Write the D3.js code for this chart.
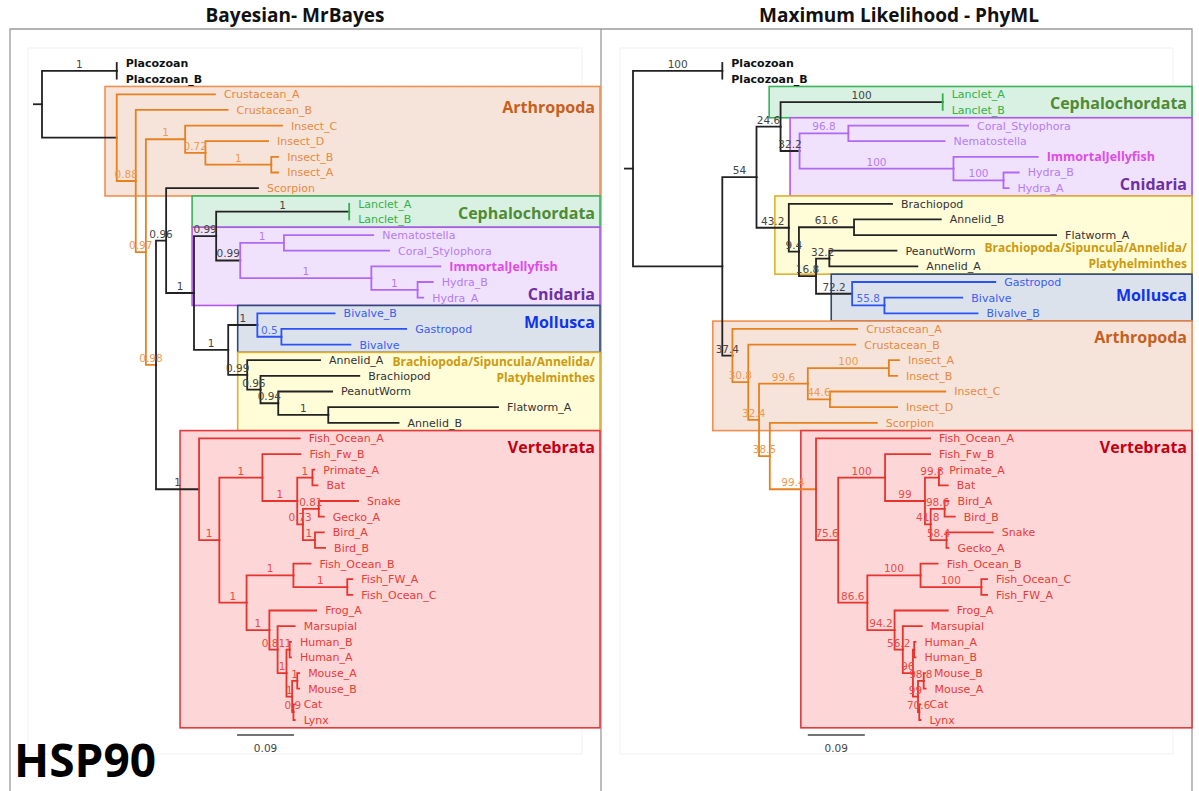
<!DOCTYPE html>
<html>
<head>
<meta charset="utf-8">
<script src="https://cdn.jsdelivr.net/npm/d3@7/dist/d3.min.js"></script>
<style>
  body { margin: 0; background: #fff; }
  text { font-family: "DejaVu Sans", sans-serif; }
</style>
</head>
<body>
<div id="chart"></div>
<script>
// rows: [node, parent, branch length, support]
const leftEdges = [
  ["root", null, 0, ""],
  ["Placo", "root", 0.118, "1"],
  ["Placozoan", "Placo", 0, ""],
  ["Placozoan_B", "Placo", 0, ""],
  ["N1", "root", 0.118, ""],
  ["Crustacean_A", "N1", 0.155, ""],
  ["N2", "N1", 0.030, "0.88"],
  ["Crustacean_B", "N2", 0.145, ""],
  ["N3", "N2", 0.016, "0.97"],
  ["Insects", "N3", 0.062, "1"],
  ["Insect_C", "Insects", 0.153, ""],
  ["ID", "Insects", 0.032, "0.72"],
  ["Insect_D", "ID", 0.099, ""],
  ["IAB", "ID", 0.104, "1"],
  ["Insect_B", "IAB", 0.011, ""],
  ["Insect_A", "IAB", 0.011, ""],
  ["N4", "N3", 0.016, "0.98"],
  ["N5", "N4", 0.016, "0.96"],
  ["Scorpion", "N5", 0.145, ""],
  ["N6", "N5", 0.044, "1"],
  ["N7", "N6", 0.035, "0.99"],
  ["Lanc", "N7", 0.210, "1"],
  ["Lanclet_A", "Lanc", 0, ""],
  ["Lanclet_B", "Lanc", 0, ""],
  ["Cnid", "N7", 0.038, "0.99"],
  ["Anth", "Cnid", 0.069, "1"],
  ["Nematostella", "Anth", 0.141, ""],
  ["Coral_Stylophora", "Anth", 0.166, ""],
  ["Hydz", "Cnid", 0.207, "1"],
  ["ImmortalJellyfish", "Hydz", 0.109, ""],
  ["Hydra", "Hydz", 0.073, "1"],
  ["Hydra_B", "Hydra", 0.024, ""],
  ["Hydra_A", "Hydra", 0.009, ""],
  ["N8", "N6", 0.054, "1"],
  ["Moll", "N8", 0.046, "1"],
  ["Bivalve_B", "Moll", 0.122, ""],
  ["MG", "Moll", 0.038, "0.5"],
  ["Gastropod", "MG", 0.197, ""],
  ["Bivalve", "MG", 0.109, ""],
  ["Loph", "N8", 0.030, "0.99"],
  ["Annelid_A", "Loph", 0.115, ""],
  ["M", "Loph", 0.021, "0.96"],
  ["Brachiopod", "M", 0.156, ""],
  ["P", "M", 0.028, "0.94"],
  ["PeanutWorm", "P", 0.085, ""],
  ["FA", "P", 0.079, "1"],
  ["Flatworm_A", "FA", 0.268, ""],
  ["Annelid_B", "FA", 0.111, ""],
  ["Vert", "N4", 0.068, "1"],
  ["Fish_Ocean_A", "Vert", 0.159, ""],
  ["V2", "Vert", 0.032, "1"],
  ["V3", "V2", 0.068, "1"],
  ["Fish_Fw_B", "V3", 0.060, ""],
  ["Amn", "V3", 0.055, "1"],
  ["PB", "Amn", 0.024, "1"],
  ["Primate_A", "PB", 0.003, ""],
  ["Bat", "PB", 0.008, ""],
  ["S", "Amn", 0.009, "0.73"],
  ["Sq", "S", 0.025, "0.81"],
  ["Snake", "Sq", 0.062, ""],
  ["Gecko_A", "Sq", 0.008, ""],
  ["Birds", "S", 0.019, "1"],
  ["Bird_A", "Birds", 0.014, ""],
  ["Bird_B", "Birds", 0.016, ""],
  ["V4", "V2", 0.043, "1"],
  ["FO", "V4", 0.074, "1"],
  ["Fish_Ocean_B", "FO", 0.027, ""],
  ["FF", "FO", 0.085, "1"],
  ["Fish_FW_A", "FF", 0.008, ""],
  ["Fish_Ocean_C", "FF", 0.008, ""],
  ["Tet", "V4", 0.036, "1"],
  ["Frog_A", "Tet", 0.074, ""],
  ["Mm", "Tet", 0.013, "0.81"],
  ["Marsupial", "Mm", 0.027, ""],
  ["Eu", "Mm", 0.014, "1"],
  ["Hum", "Eu", 0.005, "1"],
  ["Human_B", "Hum", 0.002, ""],
  ["Human_A", "Hum", 0.002, ""],
  ["Gl", "Eu", 0.009, "1"],
  ["Mou", "Gl", 0.008, "1"],
  ["Mouse_A", "Mou", 0.003, ""],
  ["Mouse_B", "Mou", 0.003, ""],
  ["CL", "Gl", 0.002, "0.9"],
  ["Cat", "CL", 0.002, ""],
  ["Lynx", "CL", 0.002, ""]
];

const rightEdges = [
  ["root", null, 0, ""],
  ["Placo", "root", 0.141, "100"],
  ["Placozoan", "Placo", 0, ""],
  ["Placozoan_B", "Placo", 0, ""],
  ["R1", "root", 0.141, ""],
  ["R2", "R1", 0.054, "54"],
  ["R3", "R2", 0.038, "24.6"],
  ["Lanc", "R3", 0.256, "100"],
  ["Lanclet_A", "Lanc", 0, ""],
  ["Lanclet_B", "Lanc", 0, ""],
  ["Cnid", "R3", 0.030, "32.2"],
  ["Anth", "Cnid", 0.077, "96.8"],
  ["Coral_Stylophora", "Anth", 0.189, ""],
  ["Nematostella", "Anth", 0.152, ""],
  ["Hydz", "Cnid", 0.243, "100"],
  ["ImmortalJellyfish", "Hydz", 0.133, ""],
  ["Hydra", "Hydz", 0.079, "100"],
  ["Hydra_B", "Hydra", 0.024, ""],
  ["Hydra_A", "Hydra", 0.008, ""],
  ["R4", "R2", 0.051, "43.2"],
  ["Brachiopod", "R4", 0.163, ""],
  ["R5", "R4", 0.016, "9.4"],
  ["R6", "R5", 0.087, "61.6"],
  ["Annelid_B", "R6", 0.137, ""],
  ["Flatworm_A", "R6", 0.319, ""],
  ["R7", "R5", 0.027, "16.8"],
  ["R8", "R7", 0.021, "32.2"],
  ["PeanutWorm", "R8", 0.106, ""],
  ["Annelid_A", "R8", 0.139, ""],
  ["Moll", "R7", 0.057, "72.2"],
  ["Gastropod", "Moll", 0.226, ""],
  ["BB", "Moll", 0.051, "55.8"],
  ["Bivalve", "BB", 0.123, ""],
  ["Bivalve_B", "BB", 0.147, ""],
  ["R9", "R1", 0.016, "37.4"],
  ["Crustacean_A", "R9", 0.197, ""],
  ["R10", "R9", 0.025, "30.8"],
  ["Crustacean_B", "R10", 0.169, ""],
  ["R11", "R10", 0.017, "32.4"],
  ["Insects", "R11", 0.077, "99.6"],
  ["IAB", "Insects", 0.128, "100"],
  ["Insect_A", "IAB", 0.016, ""],
  ["Insect_B", "IAB", 0.013, ""],
  ["ICD", "Insects", 0.035, "44.6"],
  ["Insect_C", "ICD", 0.182, ""],
  ["Insect_D", "ICD", 0.106, ""],
  ["R12", "R11", 0.017, "38.5"],
  ["Scorpion", "R12", 0.169, ""],
  ["Vert", "R12", 0.073, "99.4"],
  ["Fish_Ocean_A", "Vert", 0.180, ""],
  ["V2", "Vert", 0.035, "75.6"],
  ["V3", "V2", 0.074, "100"],
  ["Fish_Fw_B", "V3", 0.071, ""],
  ["Amn", "V3", 0.063, "99"],
  ["PB", "Amn", 0.022, "99.8"],
  ["Primate_A", "PB", 0.002, ""],
  ["Bat", "PB", 0.014, ""],
  ["S", "Amn", 0.009, "41.8"],
  ["Birds", "S", 0.022, "98.6"],
  ["Bird_A", "Birds", 0.006, ""],
  ["Bird_B", "Birds", 0.016, ""],
  ["Sq", "S", 0.025, "58.4"],
  ["Snake", "Sq", 0.073, ""],
  ["Gecko_A", "Sq", 0.003, ""],
  ["V4", "V2", 0.046, "86.6"],
  ["FO", "V4", 0.084, "100"],
  ["Fish_Ocean_B", "FO", 0.027, ""],
  ["FF", "FO", 0.096, "100"],
  ["Fish_Ocean_C", "FF", 0.009, ""],
  ["Fish_FW_A", "FF", 0.009, ""],
  ["Tet", "V4", 0.043, "94.2"],
  ["Frog_A", "Tet", 0.084, ""],
  ["Mm", "Tet", 0.013, "56.2"],
  ["Marsupial", "Mm", 0.030, ""],
  ["Eu", "Mm", 0.016, "96"],
  ["Hum", "Eu", 0.002, ""],
  ["Human_A", "Hum", 0.002, ""],
  ["Human_B", "Hum", 0.002, ""],
  ["Gl", "Eu", 0.008, "99"],
  ["Mou", "Gl", 0.009, "98.8"],
  ["Mouse_B", "Mou", 0.002, ""],
  ["Mouse_A", "Mou", 0.003, ""],
  ["CL", "Gl", 0.002, "70.6"],
  ["Cat", "CL", 0.002, ""],
  ["Lynx", "CL", 0.002, ""]
];

// which taxon belongs to which group (label colour + boxes)
const placozoa = ["Placozoan", "Placozoan_B"];
const arthropoda = ["Crustacean_A", "Crustacean_B", "Insect_A", "Insect_B", "Insect_C", "Insect_D", "Scorpion"];
const cephalochordata = ["Lanclet_A", "Lanclet_B"];
const cnidaria = ["Nematostella", "Coral_Stylophora", "ImmortalJellyfish", "Hydra_A", "Hydra_B"];
const mollusca = ["Bivalve", "Bivalve_B", "Gastropod"];
const lophotrochozoa = ["Annelid_A", "Annelid_B", "Brachiopod", "PeanutWorm", "Flatworm_A"];
const vertebrata = ["Fish_Ocean_A", "Fish_Fw_B", "Primate_A", "Bat", "Snake", "Gecko_A", "Bird_A", "Bird_B",
  "Fish_Ocean_B", "Fish_FW_A", "Fish_Ocean_C", "Frog_A", "Marsupial", "Human_A", "Human_B",
  "Mouse_A", "Mouse_B", "Cat", "Lynx"];

const panelTitles = ["Bayesian- MrBayes", "Maximum Likelihood - PhyML"];
const geneName = "HSP90";
const scaleBarValue = 0.09;

// --- styles ---
const groupStyle = {
  placo: { label: "#111", fill: null },
  arth: { label: "#e8893f", fill: "#f6e4da", stroke: "#f09050", title: "#c6601c", name: ["Arthropoda"] },
  ceph: { label: "#35b04a", fill: "#d9f1e2", stroke: "#36b45a", title: "#4f8a35", name: ["Cephalochordata"] },
  cnid: { label: "#b57cf5", fill: "#f0e2fc", stroke: "#b455f0", title: "#6f2fa3", name: ["Cnidaria"] },
  moll: { label: "#3a5cf5", fill: "#dce2ec", stroke: "#2e4a78", title: "#1133ee", name: ["Mollusca"] },
  loph: { label: "#333", fill: "#fffcd8", stroke: "#e0b030", title: "#cc9a10", name: ["Brachiopoda/Sipuncula/Annelida/", "Platyhelminthes"], small: true },
  vert: { label: "#ec3a36", fill: "#fdd6d8", stroke: "#e03a3e", title: "#c20012", name: ["Vertebrata"] }
};
const groupOf = {};
[[placozoa, "placo"], [arthropoda, "arth"], [cephalochordata, "ceph"], [cnidaria, "cnid"],
 [mollusca, "moll"], [lophotrochozoa, "loph"], [vertebrata, "vert"]].forEach(([arr, k]) => arr.forEach(n => groupOf[n] = k));

const branchColor = { black: "#222", orange: "#e8801f", green: "#36b04a", purple: "#b069f5", blue: "#2a52f5", red: "#e8332c" };
const supportColor = { black: "#444", orange: "#ec9a55", green: "#36b04a", purple: "#b77af6", blue: "#4a6af0", red: "#ee4a44" };

// colour painted on a node, inherited by its descendants
const leftPaint = { Crustacean_A: "orange", N2: "orange", N5: "black", Lanclet_A: "green", Lanclet_B: "green",
  Anth: "purple", Hydz: "purple", Bivalve_B: "blue", MG: "blue", Vert: "black", Fish_Ocean_A: "red", V2: "red" };
const rightPaint = { Lanclet_A: "green", Lanclet_B: "green", Anth: "purple", Hydz: "purple", Gastropod: "blue",
  BB: "blue", Crustacean_A: "orange", R10: "orange", Fish_Ocean_A: "red", V2: "red" };

// boxes: left edge in tree units, title centre offset from box top
const leftBoxes = [
  { g: "arth", depth: 0.0995, dy: [21] },
  { g: "ceph", depth: 0.237, dy: [17] },
  { g: "cnid", depth: 0.237, dy: [67] },
  { g: "moll", depth: 0.309, dy: [17] },
  { g: "loph", depth: 0.309, dy: [9, 25] },
  { g: "vert", depth: 0.218, dy: [16] }
];
const rightBoxes = [
  { g: "ceph", depth: 0.215, dy: [17] },
  { g: "cnid", depth: 0.248, dy: [66] },
  { g: "loph", depth: 0.224, dy: [52, 68] },
  { g: "moll", depth: 0.313, dy: [21] },
  { g: "arth", depth: 0.126, dy: [16] },
  { g: "vert", depth: 0.265, dy: [16] }
];

const W = 1199, H = 791;
const svg = d3.select("#chart").append("svg").attr("width", W).attr("height", H);

const panels = [
  { edges: leftEdges, paint: leftPaint, boxes: leftBoxes, x0: 42, left: 10, right: 600, canvas: [28, 582], barAt: 0.308, title: panelTitles[0], tx: 295 },
  { edges: rightEdges, paint: rightPaint, boxes: rightBoxes, x0: 633, left: 601, right: 1192, canvas: [620, 1173], barAt: 0.276, title: panelTitles[1], tx: 899 }
];

// frame
const frame = svg.append("g").attr("fill", "none").attr("stroke", "#9a9a9a").attr("stroke-width", 1.3);
frame.append("path").attr("d", `M10,${H + 5}V29H1192V${H + 5}M601,29V${H + 5}`);

panels.forEach(p => {
  const g = svg.append("g");

  g.append("text").attr("x", p.tx).attr("y", 22).attr("text-anchor", "middle")
    .style("font-family", "'Open Sans', sans-serif").style("font-weight", 700).style("font-size", "19px")
    .attr("fill", "#111").text(p.title);

  g.append("rect").attr("x", p.canvas[0]).attr("y", 48).attr("width", p.canvas[1] - p.canvas[0]).attr("height", 706)
    .attr("fill", "none").attr("stroke", "#f1f1f1");

  const root = d3.stratify().id(d => d[0]).parentId(d => d[1])(p.edges);
  root.eachBefore(n => {
    n.len = n.parent ? n.parent.len + n.data[2] : 0;
    n.col = p.paint[n.id] || (n.parent ? n.parent.col : "black");
  });
  const leafNames = root.leaves().map(d => d.id);

  const x = d3.scaleLinear().domain([0, scaleBarValue]).range([p.x0, p.x0 + 57]);
  const y = d3.scalePoint().domain(leafNames).range([63, 720]);
  const step = y.step();

  root.eachAfter(n => {
    n.py = n.children ? (n.children[0].py + n.children[n.children.length - 1].py) / 2 : y(n.id);
  });

  // group boxes
  p.boxes.forEach(b => {
    const st = groupStyle[b.g];
    const ys = leafNames.filter(n => groupOf[n] === b.g).map(y);
    const top = d3.min(ys) - step / 2, bot = d3.max(ys) + step / 2;
    g.append("rect").attr("x", x(b.depth)).attr("y", top).attr("width", p.right - x(b.depth)).attr("height", bot - top)
      .attr("fill", st.fill).attr("stroke", st.stroke).attr("stroke-width", 1.6);
    st.name.forEach((t, i) => {
      g.append("text").attr("x", p.right - 5).attr("y", top + b.dy[i]).attr("text-anchor", "end")
        .attr("dominant-baseline", "central")
        .style("font-family", "'Open Sans', sans-serif").style("font-weight", 700)
        .style("font-size", st.small ? "12px" : "16px")
        .attr("fill", st.title).text(t);
    });
  });

  // branches
  const nodes = root.descendants().filter(n => n.parent);
  g.append("path").attr("d", `M${x(0) - 9},${root.py}H${x(0)}`).attr("stroke", branchColor.black).attr("stroke-width", 1.8);
  g.append("g").selectAll("path").data(nodes).join("path")
    .attr("d", n => `M${x(n.parent.len)},${n.parent.py}V${n.py}H${x(n.len)}`)
    .attr("fill", "none").attr("stroke", n => branchColor[n.col]).attr("stroke-width", 1.8)
    .attr("stroke-linecap", "square");

  // support values
  g.append("g").selectAll("text").data(nodes.filter(n => n.data[3])).join("text")
    .attr("x", n => (x(n.parent.len) + x(n.len)) / 2).attr("y", n => n.py - 3)
    .attr("text-anchor", "middle").style("font-size", "10.5px")
    .attr("fill", n => supportColor[n.col]).text(n => n.data[3]);

  // tip labels
  g.append("g").selectAll("text").data(root.leaves()).join("text")
    .attr("x", n => x(n.len) + 9).attr("y", n => n.py).attr("dy", "0.36em")
    .style("font-size", n => n.id === "ImmortalJellyfish" ? "12.5px" : "11px")
    .style("font-weight", n => (groupOf[n.id] === "placo" || n.id === "ImmortalJellyfish") ? 700 : 400)
    .style("font-family", n => n.id === "ImmortalJellyfish" ? "'Open Sans', sans-serif" : null)
    .attr("fill", n => n.id === "ImmortalJellyfish" ? "#e04ce6" : groupStyle[groupOf[n.id]].label)
    .text(n => n.id);

  // scale bar
  g.append("path").attr("d", `M${x(p.barAt)},735H${x(p.barAt + scaleBarValue)}`).attr("stroke", "#444").attr("stroke-width", 1.3);
  g.append("text").attr("x", x(p.barAt + scaleBarValue / 2)).attr("y", 752).attr("text-anchor", "middle")
    .style("font-size", "10.5px").attr("fill", "#444").text(scaleBarValue);
});

svg.append("text").attr("x", 14).attr("y", 777)
  .style("font-family", "'Open Sans', sans-serif").style("font-weight", 700).style("font-size", "46px")
  .attr("fill", "#000").text(geneName);
</script>
</body>
</html>
